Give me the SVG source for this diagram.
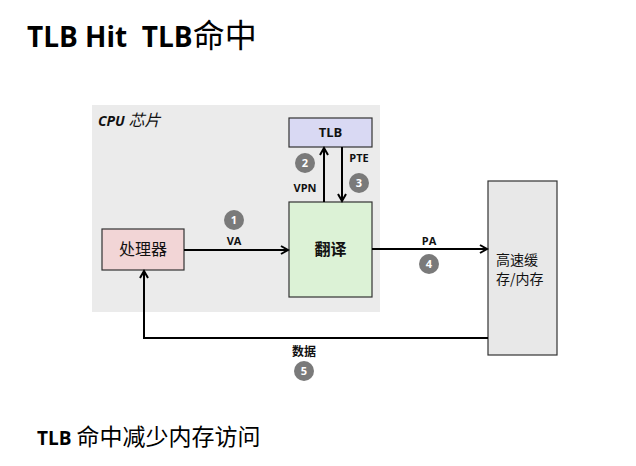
<svg xmlns="http://www.w3.org/2000/svg" width="636" height="466" viewBox="0 0 636 466">
<style>
.box{stroke:#333;stroke-width:1.2}
.lbl{font-family:"Open Sans","Liberation Sans","Noto Sans CJK SC",sans-serif;font-weight:bold;font-size:11px;fill:#111;text-anchor:middle}
.cn{font-family:"Noto Sans CJK SC",sans-serif;font-size:16px;fill:#111;text-anchor:middle}
.cnl{font-family:"Noto Sans CJK SC",sans-serif;font-size:14px;fill:#111}
.num{fill:#7a7a7a}
.numt{font-family:"Open Sans","Liberation Sans",sans-serif;font-weight:bold;font-size:11px;fill:#fff;text-anchor:middle}
.ln{stroke:#000;stroke-width:2;fill:none}
</style>
<defs>
<marker id="ah" markerWidth="10" markerHeight="10" refX="8" refY="5" orient="auto" markerUnits="userSpaceOnUse">
<path d="M1,1 L8,5 L1,9" fill="none" stroke="#000" stroke-width="2"/>
</marker>
</defs>
<rect width="636" height="466" fill="#fff"/>
<text x="27" y="47" font-family="'Open Sans','Liberation Sans','Noto Sans CJK SC',sans-serif" font-weight="bold" font-size="28" fill="#000" xml:space="preserve">TLB Hit  TLB<tspan font-family="'Noto Sans CJK SC',sans-serif" font-weight="normal" font-size="32">命中</tspan></text>
<g id="cpu">
<rect x="92" y="105" width="288" height="207" fill="#ebebeb"/>
<text x="98" y="126" font-family="'Open Sans','Liberation Sans','Noto Sans CJK SC',sans-serif" font-weight="bold" font-style="italic" font-size="14" fill="#111">CPU <tspan font-family="'Noto Sans CJK SC',sans-serif" font-weight="normal" font-size="16">芯片</tspan></text>
</g>
<g id="tlb">
<rect class="box" x="289" y="118" width="83" height="29" fill="#d9d9f3"/>
<text class="lbl" x="330.5" y="137" style="font-size:13px">TLB</text>
</g>
<g id="translate">
<rect class="box" x="289" y="202" width="83" height="95" fill="#dcf2d6"/>
<text class="cn" x="330.5" y="255" font-weight="bold">翻译</text>
</g>
<g id="processor">
<rect class="box" x="102" y="229" width="82" height="41" fill="#f2d5d6"/>
<text class="cn" x="143" y="255">处理器</text>
</g>
<g id="memory">
<rect class="box" x="488" y="181" width="69" height="174" fill="#e8e8e8"/>
<text class="cnl" x="496" y="265">高速缓</text>
<text class="cnl" x="496" y="284">存/内存</text>
</g>
<g id="connectors">
<line class="ln" x1="184" y1="250" x2="288" y2="250" marker-end="url(#ah)"/>
<line class="ln" x1="324" y1="202" x2="324" y2="148" marker-end="url(#ah)"/>
<line class="ln" x1="342" y1="147" x2="342" y2="201" marker-end="url(#ah)"/>
<line class="ln" x1="372" y1="249" x2="487" y2="249" marker-end="url(#ah)"/>
<polyline class="ln" points="488,338 144,338 144,271" marker-end="url(#ah)"/>
</g>
<g id="labels">
<text class="lbl" x="234" y="245">VA</text>
<text class="lbl" x="305" y="192">VPN</text>
<text class="lbl" x="359" y="162">PTE</text>
<text class="lbl" x="429" y="245">PA</text>
<text class="lbl" x="304" y="356" style="font-size:12px">数据</text>
</g>
<g id="steps">
<circle class="num" cx="234" cy="220" r="10"/><text class="numt" x="234" y="224">1</text>
<circle class="num" cx="305" cy="163" r="10"/><text class="numt" x="305" y="167">2</text>
<circle class="num" cx="359" cy="183" r="10"/><text class="numt" x="359" y="187">3</text>
<circle class="num" cx="429" cy="264" r="10"/><text class="numt" x="429" y="268">4</text>
<circle class="num" cx="304" cy="371" r="10"/><text class="numt" x="304" y="375">5</text>
</g>
<text x="37" y="445" font-family="'Open Sans','Liberation Sans','Noto Sans CJK SC',sans-serif" font-weight="bold" font-size="19" fill="#000">TLB <tspan font-family="'Noto Sans CJK SC',sans-serif" font-weight="normal" font-size="23">命中减少内存访问</tspan></text>
</svg>
